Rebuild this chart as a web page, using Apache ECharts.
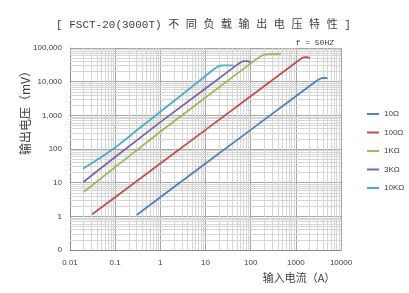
<!DOCTYPE html>
<html>
<head>
<meta charset="utf-8">
<script src="https://cdn.jsdelivr.net/npm/echarts@6/dist/echarts.min.js"></script>
<style>html,body{margin:0;padding:0;background:#fff}#c{width:409px;height:293px}</style>
</head>
<body>
<div id="c"></div>
<script>
// Series names
const seriesNames = ['10Ω', '100Ω', '1KΩ', '3KΩ', '10KΩ'];
// [input current (A), output voltage (mV)]
const load10 = [[0.3,1.1],[1,3.7],[10,37],[100,370],[1000,3700],[2800,10300],[3200,11600],[3500,12400],[3800,12900],[4200,13000],[5000,12700]];
const load100 = [[0.031,1.15],[0.1,3.7],[1,37],[10,370],[100,3700],[1000,37000],[1250,46000],[1400,52000],[1550,54800],[1750,54000],[2050,50000]];
const load1k = [[0.0204,5.4],[0.1,29],[1,325],[10,3400],[100,35000],[150,51000],[170,58500],[185,62000],[210,64500],[280,65800],[470,67500]];
const load3k = [[0.0197,10.5],[0.1,58],[1,630],[10,6300],[45,28500],[55,34500],[62,38500],[70,40500],[82,40700],[92,39500],[100,37000]];
const load10k = [[0.0197,26.5],[0.05,58],[0.1,110],[0.18,205],[0.3,360],[0.6,740],[1,1280],[3,4100],[10,14800],[15,23000],[18,27500],[21,29700],[25,30300],[34,30400],[42,30000]];
const seriesData = [load10, load100, load1k, load3k, load10k];
const colors = ['#4F81BD', '#C0504D', '#9BBB59', '#8064A2', '#4BACC6'];
// Axis ranges and tick labels
const xMin = 0.01, xMax = 10000;
const yMin = 0.1, yMax = 100000;
const yTickLabels = {0.1:'0', 1:'1', 10:'10', 100:'100', 1000:'1,000', 10000:'10,000', 100000:'100,000'};
const xTickLabels = {0.01:'0.01', 0.1:'0.1', 1:'1', 10:'10', 100:'100', 1000:'1000', 10000:'10000'};

// minor grid positions (2..9 x 10^k)
const minorX = [], minorY = [];
for (let k = -2; k <= 3; k++) for (let m = 2; m <= 9; m++) minorX.push(+(m * Math.pow(10, k)).toPrecision(3));
for (let k = -1; k <= 4; k++) for (let m = 2; m <= 9; m++) minorY.push(+(m * Math.pow(10, k)).toPrecision(3));

const chart = echarts.init(document.getElementById('c'), null, {renderer: 'canvas'});
const mono = "'Liberation Mono', 'Noto Sans CJK SC', monospace";
const cjk = "'Noto Sans CJK SC', sans-serif";

const series = seriesNames.map((n, i) => ({
  name: n,
  type: 'line',
  data: seriesData[i],
  showSymbol: false,
  symbol: 'none',
  smooth: false,
  lineStyle: {color: colors[i], width: 1.8, join: 'round'},
  itemStyle: {color: colors[i]},
  z: 5
}));
series.unshift({
  name: 'grid',
  type: 'line',
  data: [],
  silent: true,
  markLine: {
    silent: true,
    symbol: ['none', 'none'],
    label: {show: false},
    animation: false,
    lineStyle: {color: '#d6d6d6', width: 1, type: 'solid'},
    data: minorX.map(v => ({xAxis: v})).concat(minorY.map(v => ({yAxis: v})))
  },
  z: 1
});

chart.setOption({
  animation: false,
  backgroundColor: '#fff',
  title: [
    {text: '[ FSCT-20(3000T) 不 同 负 载 输 出 电 压 特 性 ]', left: 51, top: 15,
     textStyle: {fontFamily: mono, fontSize: 11, fontWeight: 'normal', color: '#404040'}},
    {text: 'f = 50HZ', right: 70, top: 34,
     textStyle: {fontFamily: mono, fontSize: 8, fontWeight: 'normal', color: '#404040'}}
  ],
  legend: {
    orient: 'vertical', left: 362, top: 104,
    data: seriesNames,
    icon: 'rect', itemWidth: 12, itemHeight: 2, itemGap: 8.5,
    textStyle: {fontSize: 8, color: '#404040', lineHeight: 10, fontFamily: 'Liberation Sans, Arial, sans-serif'}
  },
  grid: {left: 70, right: 68, top: 48, bottom: 43, containLabel: false},
  xAxis: {
    type: 'log', logBase: 10, min: xMin, max: xMax, splitNumber: 6,
    axisLine: {show: true, lineStyle: {color: '#8c8c8c'}},
    axisTick: {show: false},
    axisLabel: {fontSize: 8, color: '#404040', margin: 9, fontFamily: 'Liberation Sans, Arial, sans-serif',
      formatter: v => xTickLabels[+v.toPrecision(3)] || ''},
    splitLine: {show: true, lineStyle: {color: '#a6a6a6', width: 1}}
  },
  yAxis: {
    type: 'log', logBase: 10, min: yMin, max: yMax, splitNumber: 6,
    axisLine: {show: true, lineStyle: {color: '#8c8c8c'}},
    axisTick: {show: false},
    axisLabel: {fontSize: 8, color: '#404040', margin: 8, fontFamily: 'Liberation Sans, Arial, sans-serif',
      formatter: v => yTickLabels[+v.toPrecision(3)] || ''},
    splitLine: {show: true, lineStyle: {color: '#a6a6a6', width: 1}}
  },
  graphic: [
    {type: 'text', x: 25, y: 110, rotation: Math.PI / 2,
     style: {text: '输出电压（mV）', fontFamily: cjk, fontSize: 12, fill: '#404040', align: 'center', verticalAlign: 'middle'}},
    {type: 'text', x: 299, y: 278,
     style: {text: '输入电流（A）', fontFamily: cjk, fontSize: 11, fill: '#404040', align: 'center', verticalAlign: 'middle'}}
  ],
  series: series
});
</script>
</body>
</html>
